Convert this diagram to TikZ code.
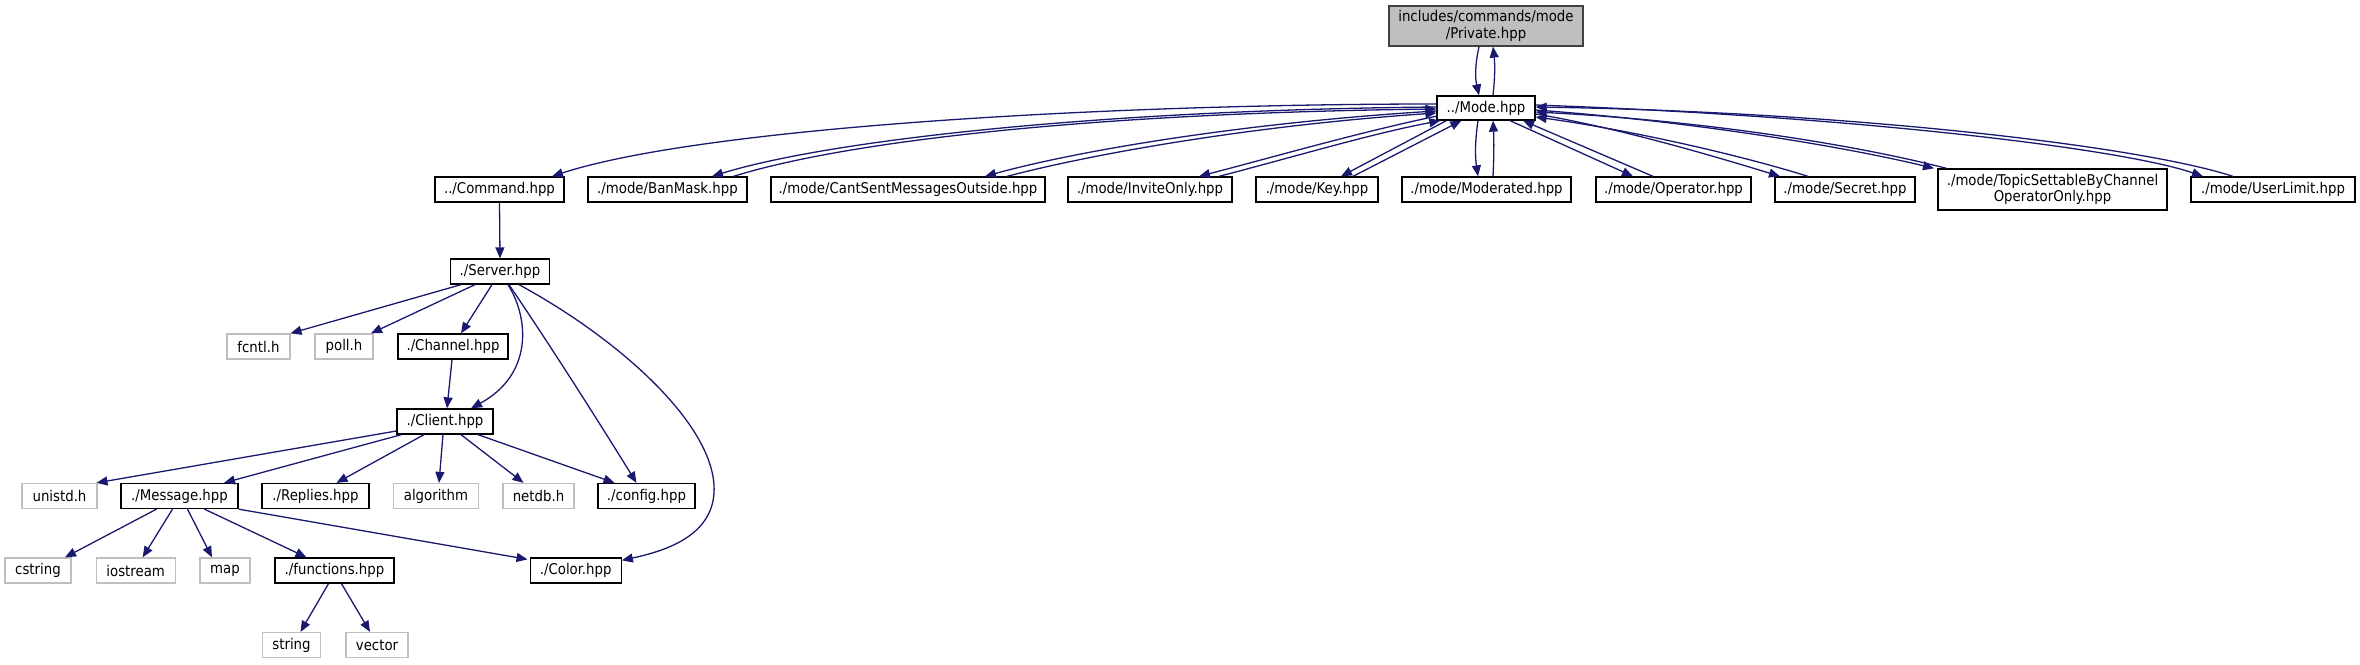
\documentclass[tikz,border=0pt]{standalone}
\usepackage{fontspec}
\setmainfont{DejaVu Sans Condensed}
\usetikzlibrary{arrows.meta,calc}
\definecolor{edgecol}{HTML}{191970}
\definecolor{sysgray}{HTML}{BFBFBF}
\definecolor{rootfill}{HTML}{BFBFBF}
\definecolor{rootline}{HTML}{404040}
\begin{document}
\begin{tikzpicture}[x=0.5pt,y=-0.5pt,
 hdr/.style={draw=black, line width=0.65pt, fill=white, minimum height=12.5pt, inner sep=0pt, align=center, font=\fontsize{7.4}{8.4}\selectfont},
 sys/.style={hdr, draw=sysgray},
 root/.style={hdr, fill=rootfill, draw=rootline},
 bw/.style={minimum width=#1*0.5pt},
 edge/.style={draw=edgecol, line width=0.65pt, -{Triangle[length=5.5pt,width=4.5pt]}},
]
\useasboundingbox (0,0) rectangle (2360,664);
% row 1
\node[root,bw=194,minimum height=20pt] (Private) at (1486,26) {includes/commands/mode\\/Private.hpp};
\node[hdr,bw=98,minimum height=12pt] (Mode) at (1486,108) {../Mode.hpp};
% row 2
\node[hdr,bw=129] (Command) at (499.5,189.5) {../Command.hpp};
\node[hdr,bw=159] (BanMask) at (667.5,189.5) {./mode/BanMask.hpp};
\node[hdr,bw=274] (CantSent) at (908,189.5) {./mode/CantSentMessagesOutside.hpp};
\node[hdr,bw=164] (InviteOnly) at (1150,189.5) {./mode/InviteOnly.hpp};
\node[hdr,bw=122] (Key) at (1317,189.5) {./mode/Key.hpp};
\node[hdr,bw=169] (Moderated) at (1486.5,189.5) {./mode/Moderated.hpp};
\node[hdr,bw=155] (Operator) at (1673.5,189.5) {./mode/Operator.hpp};
\node[hdr,bw=140] (Secret) at (1845,189.5) {./mode/Secret.hpp};
\node[hdr,bw=229,minimum height=20.5pt] (Topic) at (2052.5,189.5) {./mode/TopicSettableByChannel\\OperatorOnly.hpp};
\node[hdr,bw=164] (UserLimit) at (2273,189.5) {./mode/UserLimit.hpp};
% row 3
\node[hdr,bw=99] (Server) at (500,271.5) {./Server.hpp};
% row 4
\node[sys,bw=63] (fcntl) at (258.5,346.5) {fcntl.h};
\node[sys,bw=58] (poll) at (344,346.5) {poll.h};
\node[hdr,bw=110] (Channel) at (453,346.5) {./Channel.hpp};
% row 5
\node[hdr,bw=96] (Client) at (445,421.5) {./Client.hpp};
% row 6
\node[sys,bw=75] (unistd) at (59.5,496) {unistd.h};
\node[hdr,bw=117] (Message) at (179.5,496) {./Message.hpp};
\node[hdr,bw=107] (Replies) at (315.5,496) {./Replies.hpp};
\node[sys,bw=85] (algorithm) at (436,496) {algorithm};
\node[sys,bw=71] (netdb) at (538.5,496) {netdb.h};
\node[hdr,bw=97] (config) at (646.5,496) {./config.hpp};
% row 7
\node[sys,bw=66] (cstring) at (38,570.5) {cstring};
\node[sys,bw=79] (iostream) at (135.7,570.5) {iostream};
\node[sys,bw=50] (map) at (225,570.5) {map};
\node[hdr,bw=119] (functions) at (334.5,570.5) {./functions.hpp};
\node[hdr,bw=91] (Color) at (575.7,570.5) {./Color.hpp};
% row 8
\node[sys,bw=58] (string) at (291.5,645) {string};
\node[sys,bw=62] (vector) at (377,645) {vector};

% Private <-> Mode
\draw[edge] ($(Private.south)+(-7,0)$) .. controls +(-4,18) and +(-4,-18) .. ($(Mode.north)+(-7,0)$);
\draw[edge] ($(Mode.north)+(7,0)$) .. controls +(2,-18) and +(2,18) .. ($(Private.south)+(7,0)$);
% Mode edges
\draw[edge] ($(Mode.west)+(0,-4)$) .. controls (1100,104) and (700,128) .. ($(Command.north)+(52.5,0)$);
\draw[edge] ($(Mode.west)+(0,-1)$) .. controls (1100,110) and (830,140) .. ($(BanMask.north)+(44.5,0)$);
\draw[edge] ($(BanMask.north)+(66,0)$) .. controls (850,140) and (1100,113) .. ($(Mode.west)+(0,1)$);
\draw[edge] ($(Mode.west)+(0,3)$) .. controls (1250,122) and (1080,150) .. ($(CantSent.north)+(77,0)$);
\draw[edge] ($(CantSent.north)+(99,0)$) .. controls (1100,152) and (1260,125) .. ($(Mode.west)+(0,5)$);
\draw[edge] ($(Mode.west)+(1,8)$) .. controls (1360,132) and (1270,158) .. ($(InviteOnly.north)+(49,0)$);
\draw[edge] ($(InviteOnly.north)+(69,0)$) .. controls (1290,158) and (1370,134) .. ($(Mode.south west)+(4,0)$);
\draw[edge] ($(Mode.south west)+(10,0)$) -- ($(Key.north)+(24,0)$);
\draw[edge] ($(Key.north)+(36,0)$) -- ($(Mode.south west)+(25,0)$);
\draw[edge] ($(Mode.south)+(-8,0)$) .. controls +(-3,20) and +(-3,-20) .. ($(Moderated.north)+(-8.5,0)$);
\draw[edge] ($(Moderated.north)+(6.5,0)$) .. controls +(1,-20) and +(1,20) .. ($(Mode.south)+(7,0)$);
\draw[edge] ($(Mode.south)+(24,0)$) -- ($(Operator.north)+(-40.5,0)$);
\draw[edge] ($(Operator.north)+(-20.5,0)$) -- ($(Mode.south)+(37,0)$);
\draw[edge] ($(Mode.east)+(0,6)$) .. controls (1620,128) and (1720,158) .. ($(Secret.north)+(-65,0)$);
\draw[edge] ($(Secret.north)+(-37,0)$) .. controls (1740,155) and (1630,130) .. ($(Mode.east)+(0,9)$);
\draw[edge] ($(Mode.east)+(0,2)$) .. controls (1700,122) and (1850,148) .. ($(Topic.north)+(-118.5,0)$);
\draw[edge] ($(Topic.north)+(-106,0)$) .. controls (1860,146) and (1710,121) .. ($(Mode.east)+(0,4)$);
\draw[edge] ($(Mode.east)+(0,-3)$) .. controls (1850,116) and (2120,148) .. ($(UserLimit.north)+(-70,0)$);
\draw[edge] ($(UserLimit.north)+(-40,0)$) .. controls (2140,146) and (1850,112) .. ($(Mode.east)+(0,-1)$);
% lower graph
\draw[edge] (Command.south) -- (Server.north);
\draw[edge] ($(Server.south)+(-39,0)$) -- ($(fcntl.north)+(32,0)$);
\draw[edge] ($(Server.south)+(-25,0)$) -- ($(poll.north)+(27,0)$);
\draw[edge] ($(Server.south)+(-8,0)$) -- ($(Channel.north)+(8,0)$);
\draw[edge] ($(Server.south)+(8,0)$) .. controls (530,320) and (532,375) .. ($(Client.north)+(26,0)$);
\draw[edge] ($(Server.south)+(9,0)$) .. controls (560,360) and (610,440) .. ($(config.north)+(-10,0)$);
\draw[edge] ($(Server.south)+(19,0)$) .. controls (630,345) and (730,440) .. (712,505) .. controls (702,540) and (660,552) .. ($(Color.north east)+(0,3)$);
\draw[edge] ($(Channel.south)+(-1,0)$) -- ($(Client.north)+(2,0)$);
\draw[edge] ($(Client.west)+(0,9.5)$) -- ($(unistd.north)+(37,0)$);
\draw[edge] ($(Client.south west)+(5,0)$) -- ($(Message.north)+(44.5,0)$);
\draw[edge] ($(Client.south)+(-21,0)$) -- ($(Replies.north)+(21,0)$);
\draw[edge] ($(Client.south)+(-2,0)$) -- ($(algorithm.north)+(3,0)$);
\draw[edge] ($(Client.south)+(16,0)$) -- ($(netdb.north)+(-15,0)$);
\draw[edge] ($(Client.south)+(33,0)$) -- ($(config.north)+(-32,0)$);
\draw[edge] ($(Message.south)+(-23,0)$) -- ($(cstring.north)+(27,0)$);
\draw[edge] ($(Message.south)+(-7,0)$) -- ($(iostream.north)+(7,0)$);
\draw[edge] ($(Message.south)+(8,0)$) -- ($(map.north)+(-13,0)$);
\draw[edge] ($(Message.south)+(25,0)$) -- ($(functions.north)+(-28,0)$);
\draw[edge] (Message.south east) -- ($(Color.north west)+(-2,2)$);
\draw[edge] ($(functions.south)+(-6,0)$) -- ($(string.north)+(9,0)$);
\draw[edge] ($(functions.south)+(7,0)$) -- ($(vector.north)+(-7,0)$);
\end{tikzpicture}
\end{document}
